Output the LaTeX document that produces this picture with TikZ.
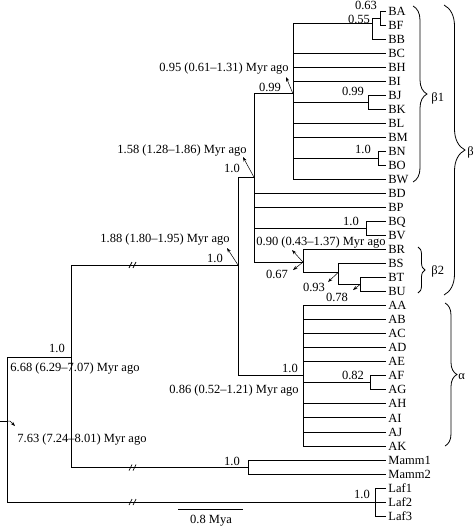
\documentclass[tikz,border=0pt]{standalone}
\usepackage{fontspec}
\setmainfont{Liberation Serif}
\usetikzlibrary{decorations.pathreplacing,arrows.meta}
\pgfmathdeclarefunction{ly}{1}{\pgfmathparse{11+14.03*#1}}
\begin{document}
\begin{tikzpicture}[x=1pt,y=-1pt, line width=0.8pt,
  lbl/.style={inner sep=0pt, text height=8.3pt, text depth=0pt, font=\fontsize{12.5}{14}\selectfont},
  leaf/.style={lbl, anchor=west},
  ar/.style={-{Stealth[length=4.5pt,width=3.2pt]}, line width=0.5pt},
  brc/.style={decorate, decoration={brace, amplitude=#1}, line width=0.8pt},
  brk/.style={line width=0.7pt}]
\useasboundingbox (0,0) rectangle (476,528);
% leaves
\foreach \n [count=\i from 0] in {BA,BF,BB,BC,BH,BI,BJ,BK,BL,BM,BN,BO,BW,BD,BP,BQ,BV,BR,BS,BT,BU,AA,AB,AC,AD,AE,AF,AG,AH,AI,AJ,AK,Mamm1,Mamm2,Laf1,Laf2,Laf3}{
  \coordinate (t\n) at (386,{ly(\i)});
  \node[leaf] (\n) at (388,{ly(\i)}) {\n};
}
% internal nodes
\coordinate (nBAF) at (380,{ly(0.5)});
\coordinate (nBAB) at (372,{ly(0.89)});
\coordinate (nBJK) at (368,{ly(6.5)});
\coordinate (nBNO) at (378,{ly(10.5)});
\coordinate (nB1) at (293,{ly(5.9)});
\coordinate (nBQV) at (366,{ly(15.5)});
\coordinate (nBTU) at (360,{ly(19.5)});
\coordinate (nBSTU) at (338,{ly(18.65)});
\coordinate (nB2) at (303,{ly(17.9)});
\coordinate (nB) at (254,{ly(11.85)});
\coordinate (nAFG) at (370,{ly(26.5)});
\coordinate (nA) at (303,{ly(26)});
\coordinate (nBA) at (238,265);
\coordinate (nM) at (248,{ly(32.5)});
\coordinate (nMain) at (71,357);
\coordinate (nL) at (375,{ly(35)});
\coordinate (nR) at (7,421);
\coordinate (rootstem) at (0,421);
% branches
\draw (nBAF) |- (tBA) (nBAF) |- (tBF);
\draw (nBAB) |- (nBAF) (nBAB) |- (tBB);
\draw (nBJK) |- (tBJ) (nBJK) |- (tBK);
\draw (nBNO) |- (tBN) (nBNO) |- (tBO);
\foreach \c in {nBAB,tBC,tBH,tBI,nBJK,tBL,tBM,nBNO,tBW} \draw (nB1) |- (\c);
\draw (nBQV) |- (tBQ) (nBQV) |- (tBV);
\draw (nBTU) |- (tBT) (nBTU) |- (tBU);
\draw (nBSTU) |- (tBS) (nBSTU) |- (nBTU);
\draw (nB2) |- (tBR) (nB2) |- (nBSTU);
\foreach \c in {nB1,tBD,tBP,nBQV,nB2} \draw (nB) |- (\c);
\draw (nAFG) |- (tAF) (nAFG) |- (tAG);
\foreach \c in {tAA,tAB,tAC,tAD,tAE,nAFG,tAH,tAI,tAJ,tAK} \draw (nA) |- (\c);
\draw (nBA) |- (nB) (nBA) |- (nA);
\draw (nM) |- (tMamm1) (nM) |- (tMamm2);
\draw (nMain) |- (nBA) (nMain) |- (nM);
\foreach \c in {tLaf1,tLaf2,tLaf3} \draw (nL) |- (\c);
\draw (nR) |- (nMain) (nR) |- (nL);
\draw (rootstem) -- (nR);
% breaks
\foreach \yb in {265,467.6,502.05} {
  \draw[brk] (129,{\yb+3}) -- (132,{\yb-3}) (133,{\yb+3}) -- (136,{\yb-3});
}
% support values
\node[lbl] (s63) at (366,5.5) {0.63};
\node[lbl] (s55) at (359,19) {0.55};
\node[lbl] (s99a) at (353,91) {0.99};
\node[lbl] (s10a) at (363,149) {1.0};
\node[lbl] (s99b) at (270,87) {0.99};
\node[lbl] (s10b) at (232,168) {1.0};
\node[lbl] (s10c) at (351,221) {1.0};
\node[lbl] (s67) at (277,274) {0.67};
\node[lbl] (s93) at (314,287) {0.93};
\node[lbl] (s78) at (337,297) {0.78};
\node[lbl] (s10d) at (215,258) {1.0};
\node[lbl] (s10e) at (290,368) {1.0};
\node[lbl] (s82) at (353,375) {0.82};
\node[lbl] (s10f) at (57,348) {1.0};
\node[lbl] (s10g) at (232,461) {1.0};
\node[lbl] (s10h) at (362,494) {1.0};
% ages
\node[lbl,anchor=east] (a95) at (289,67) {0.95 (0.61–1.31) Myr ago};
\node[lbl] (a158) at (182,149) {1.58 (1.28–1.86) Myr ago};
\node[lbl] (a90) at (321,241) {0.90 (0.43–1.37) Myr ago};
\node[lbl] (a188) at (165,238) {1.88 (1.80–1.95) Myr ago};
\node[lbl,anchor=east] (a86) at (299,389) {0.86 (0.52–1.21) Myr ago};
\node[lbl,anchor=west] (a668) at (10,367) {6.68 (6.29–7.07) Myr ago};
\node[lbl,anchor=west] (a763) at (17,438) {7.63 (7.24–8.01) Myr ago};
% arrows
\coordinate (p95) at (286,77);
\coordinate (p158) at (243,157);
\coordinate (p188) at (227,248);
\coordinate (p90) at (292,250);
\coordinate (p67) at (293,270);
\coordinate (p93) at (328,282);
\coordinate (p78) at (353,290);
\coordinate (p763) at (15,426);
\coordinate (q763) at (10,421);
\draw[ar] (nB1) -- (p95);
\draw[ar] (nB) -- (p158);
\draw[ar] (nBA) -- (p188);
\draw[ar] (nB2) -- (p90);
\draw[ar] (nB2) -- (p67);
\draw[ar] (nBSTU) -- (p93);
\draw[ar] (nBTU) -- (p78);
\draw[ar] (nR) -- (q763) -- (p763);
% braces
\draw[brc=14] (413,6) -- (413,182);
\node[lbl,anchor=west] (b1) at (431,97) {β1};
\draw[brc=21] (444,5) -- (444,295);
\node[lbl,anchor=west] (b) at (467,151) {β};
\draw[brc=7] (418,247) -- (418,293);
\node[lbl,anchor=west] (b2) at (431,270) {β2};
\draw[brc=12] (445,303) -- (445,446);
\node[lbl,anchor=west] (al) at (458,375) {α};
% scale bar
\coordinate (sb1) at (178,509);
\coordinate (sb2) at (243,509);
\draw (sb1) -- (sb2);
\node[lbl] (sbl) at (211,519) {0.8 Mya};
\end{tikzpicture}
\end{document}
